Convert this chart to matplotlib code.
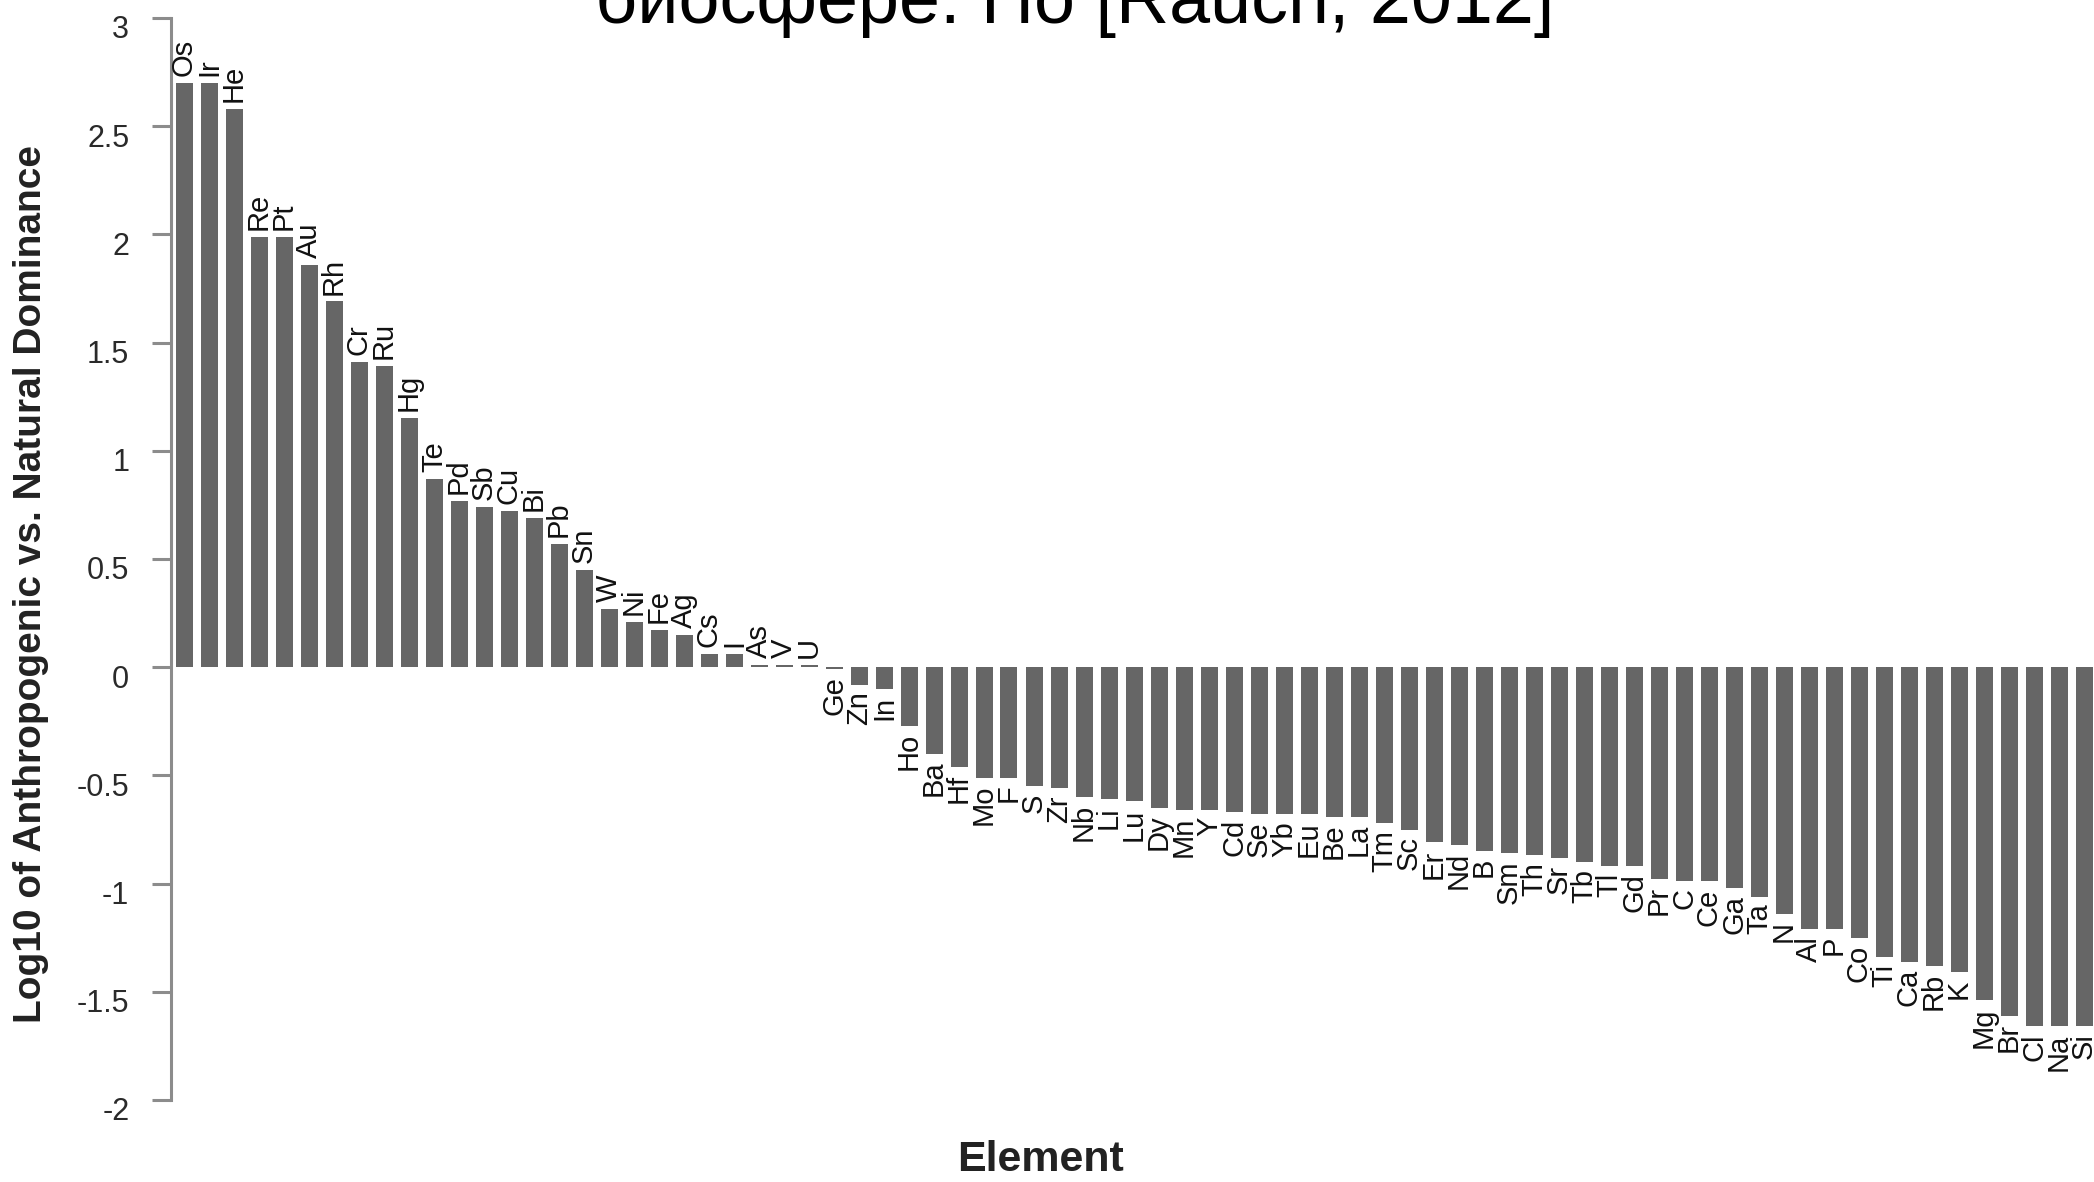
import matplotlib
matplotlib.use("Agg")
import matplotlib.pyplot as plt
import matplotlib.transforms as mtransforms
from matplotlib import font_manager

elements = ["Os", "Ir", "He", "Re", "Pt", "Au", "Rh", "Cr", "Ru", "Hg",
            "Te", "Pd", "Sb", "Cu", "Bi", "Pb", "Sn", "W", "Ni", "Fe",
            "Ag", "Cs", "I", "As", "V", "U", "Ge", "Zn", "In", "Ho",
            "Ba", "Hf", "Mo", "F", "S", "Zr", "Nb", "Li", "Lu", "Dy",
            "Mn", "Y", "Cd", "Se", "Yb", "Eu", "Be", "La", "Tm", "Sc",
            "Er", "Nd", "B", "Sm", "Th", "Sr", "Tb", "Tl", "Gd", "Pr",
            "C", "Ce", "Ga", "Ta", "N", "Al", "P", "Co", "Ti", "Ca",
            "Rb", "K", "Mg", "Br", "Cl", "Na", "Si"]

log_dominance = [2.70, 2.70, 2.58, 1.99, 1.99, 1.86, 1.69, 1.41, 1.39, 1.15,
                 0.87, 0.77, 0.74, 0.72, 0.69, 0.57, 0.45, 0.27, 0.21, 0.17,
                 0.15, 0.06, 0.06, 0.01, 0.01, 0.01, -0.01, -0.08, -0.10, -0.27,
                 -0.40, -0.46, -0.51, -0.51, -0.55, -0.56, -0.60, -0.61, -0.62, -0.65,
                 -0.66, -0.66, -0.67, -0.68, -0.68, -0.68, -0.69, -0.69, -0.72, -0.75,
                 -0.81, -0.82, -0.85, -0.86, -0.87, -0.88, -0.90, -0.92, -0.92, -0.98,
                 -0.99, -0.99, -1.02, -1.06, -1.14, -1.21, -1.21, -1.25, -1.34, -1.36,
                 -1.38, -1.41, -1.54, -1.61, -1.66, -1.66, -1.66]

yticks = [-2, -1.5, -1, -0.5, 0, 0.5, 1, 1.5, 2, 2.5, 3]
ytick_labels = ["-2", "-1.5", "-1", "-0.5", "0", "0.5", "1", "1.5", "2", "2.5", "3"]

title = "биосфере. По [Rauch, 2012]"

plt.rcParams["font.family"] = ["Liberation Sans", "DejaVu Sans"]

# narrow font for the cut-off title if it is there
try:
    font_manager.findfont("Liberation Sans Narrow", fallback_to_default=False)
    title_family, title_size = ["Liberation Sans Narrow", "DejaVu Sans"], 64
except ValueError:
    title_family, title_size = ["Liberation Sans", "DejaVu Sans"], 53

fig = plt.figure(figsize=(20.94, 11.82), dpi=100)
ax = fig.add_axes([171 / 2094, 1 - 1100 / 1182, 1 - 171 / 2094, 1082 / 1182])

x = list(range(len(elements)))
ax.bar(x, log_dominance, width=0.68, color="#666666")

for xi, val, name in zip(x, log_dominance, elements):
    if val >= 0:
        ax.annotate(name, (xi, val), xytext=(0, 5), textcoords="offset points",
                    rotation=90, ha="center", va="bottom", fontsize=21, color="#111111")
    else:
        ax.annotate(name, (xi, val), xytext=(0, -5), textcoords="offset points",
                    rotation=90, ha="center", va="top", fontsize=21, color="#111111")

ax.set_xlim(-0.52, 76.4)
ax.set_ylim(-2, 3)
for side in ["top", "right", "bottom"]:
    ax.spines[side].set_visible(False)
ax.spines["left"].set_bounds(-2, 3)
ax.spines["left"].set_color("#8c8c8c")
ax.spines["left"].set_linewidth(2.2)
ax.set_xticks([])
ax.set_yticks(yticks)
ax.set_yticklabels(ytick_labels, fontsize=22, color="#2a2a2a")
ax.tick_params(axis="y", length=14, width=2.2, color="#8c8c8c", pad=16)
shift = mtransforms.ScaledTranslation(0, -9 / 100, fig.dpi_scale_trans)
for lbl in ax.get_yticklabels():
    lbl.set_transform(lbl.get_transform() + shift)

fig.text(31 / 2094, 1 - 584 / 1182, "Log10 of Anthropogenic vs. Natural Dominance",
         rotation=90, ha="center", va="center", fontsize=28, fontweight="bold", color="#222222")
fig.text(1040 / 2094, 1 - 1160 / 1182, "Element", ha="center", va="center",
         fontsize=31, fontweight="bold", color="#222222")
fig.text(1075 / 2094, 1 - 23 / 1182, title, ha="center", va="baseline",
         fontsize=title_size, family=title_family, color="black")

fig.savefig("out.png", dpi=100)
